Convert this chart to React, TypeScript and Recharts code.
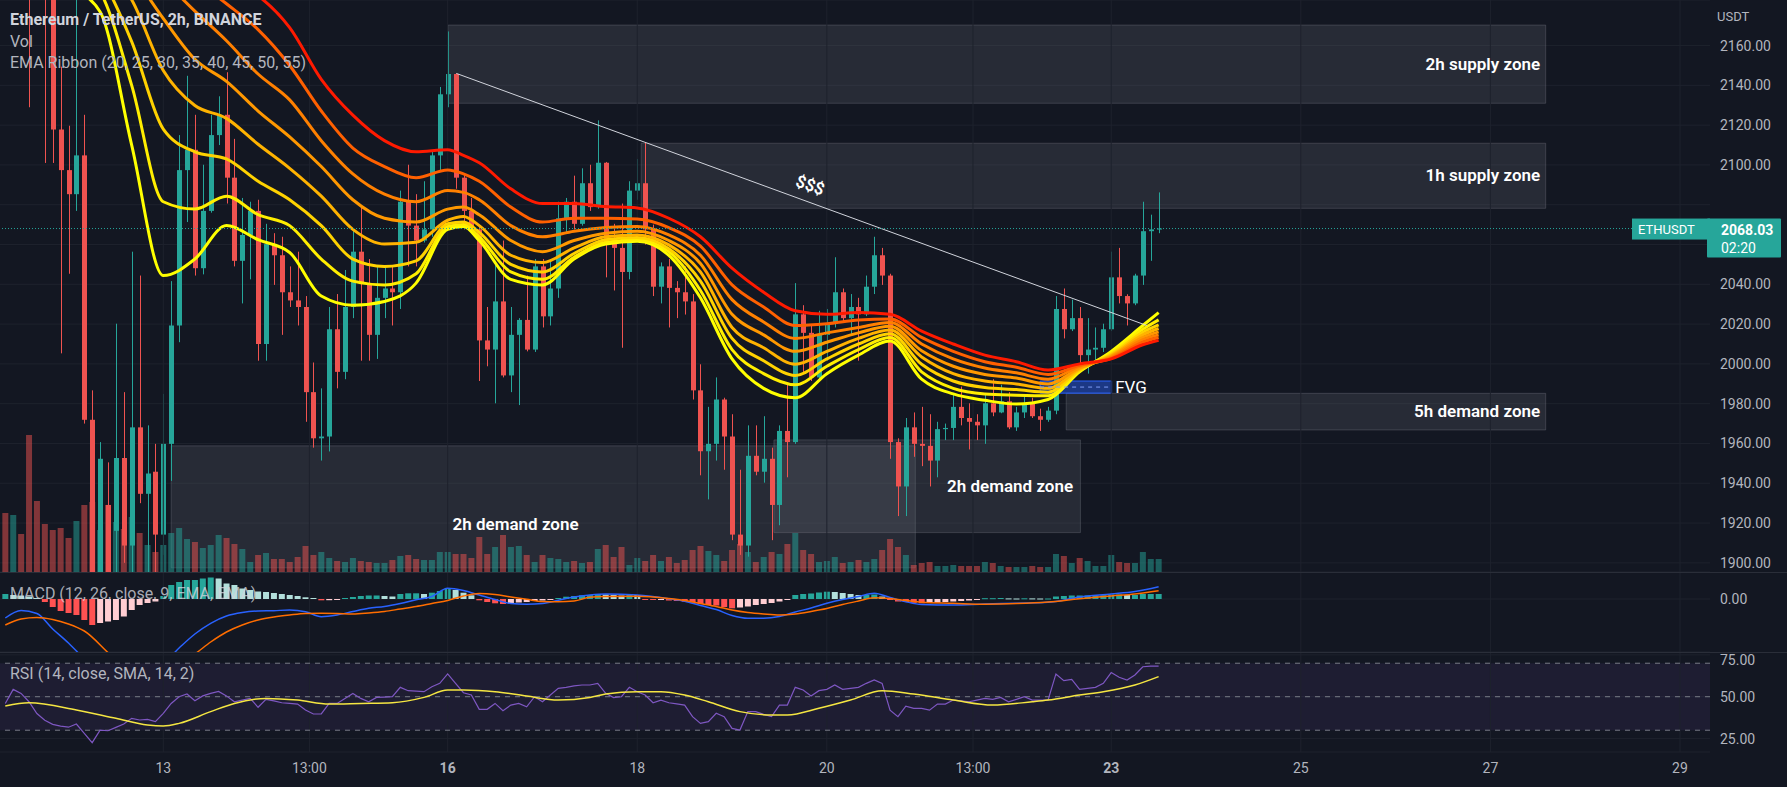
import React from 'react'
import {
  ComposedChart,
  Bar,
  Line,
  Scatter,
  XAxis,
  YAxis,
  CartesianGrid,
  ReferenceArea,
  ReferenceLine,
} from 'recharts'

// ETHUSDT 2h (Binance). Bar index 0 is the first bar on screen, day 13 opens at bar 20.
const opens = [
  2236, 2228, 2232, 2208, 2196, 2190, 2186, 2117.8, 2097.4, 2085.3,
  2104.8, 1971.9, 1872, 1929.1, 1916.1, 1952.7, 1908.7, 1968.1, 1934.7, 1945.8,
  1914.2, 1959.8, 2019.3, 2097.4, 2107.6, 2048.1, 2076.9, 2115, 2125.2, 2093.6,
  2051.8, 2064.8, 2076.9, 2010, 2060.2, 2054.6, 2036, 2031.9, 2028.6, 1985.8,
  1962.6, 1963.5, 2017.4, 1996, 2028.6, 2056.4, 2040.7, 2014.6, 2033.2, 2037.9,
  2036, 2081.5, 2069.5, 2062, 2067.6, 2104.8, 2135.5, 2145.7, 2093.6, 2076.9,
  2067.6, 2011.8, 2007.2, 2031.4, 1994.2, 2014.6, 2022.1, 2007.2, 2049, 2023.9,
  2037.9, 2073.2, 2081.5, 2070.4, 2090.8, 2078.8, 2101.1, 2061.1, 2058.3, 2046.2,
  2087.1, 2090.8, 2067.6, 2038.8, 2049, 2038.2, 2036, 2031.4, 1986.7, 1956.1,
  1959.8, 1982.1, 1963.5, 1914.2, 1908.7, 1953.8, 1945.8, 1952.3, 1929.1, 1966.3,
  1960.7, 2024.9, 2015.6, 1993.2, 2014.6, 2020.2, 2036, 2023, 2028.6, 2024.9,
  2038.8, 2054.6, 2044.4, 1960.7, 1938.4, 1968.1, 1959.8, 1958.8, 1951.4, 1967.2,
  1967.8, 1978.4, 1972.8, 1970.9, 1969.1, 1980.2, 1975.6, 1981.2, 1968.1, 1975.6,
  1980.2, 1973.7, 1971.9, 1976.5, 2027.6, 2017.4, 2023, 2004.4, 2007.2, 2008.1,
  2017.4, 2043.5, 2034.1, 2030.4, 2044.4, 2066.7, 2067.6,
]
const highs = [
  2248, 2240, 2236, 2215, 2202, 2195, 2192, 2149.4, 2119.7, 2186,
  2125.2, 1986.7, 1960.7, 1950.5, 2020.2, 1985.8, 2056.4, 2044.4, 1969.1, 1959.8,
  1984.9, 2041.6, 2115, 2144.8, 2125.2, 2100.1, 2125.2, 2134.5, 2146.6, 2113.1,
  2083.4, 2081.5, 2082.5, 2070.4, 2065.7, 2063.9, 2049, 2056.4, 2034.1, 2000.7,
  1987.7, 2028.6, 2035.1, 2047.2, 2067.6, 2079.7, 2052.7, 2049, 2049, 2049,
  2087.1, 2100.1, 2085.3, 2091.8, 2106.6, 2139.2, 2167.1, 2146, 2095.5, 2083.4,
  2069.5, 2028.6, 2051.8, 2062, 2028.6, 2023, 2044.4, 2052.7, 2052.7, 2052.7,
  2081.5, 2083.4, 2094.6, 2098.3, 2100.1, 2122.4, 2101.5, 2070.4, 2080.6, 2091.8,
  2103, 2111.3, 2070, 2051, 2052.7, 2041.6, 2049, 2035.1, 1999.8, 1978.4,
  1993.2, 1983, 1974.7, 1946.8, 1969.1, 1969.1, 1973.7, 1957.9, 1969.1, 1990.5,
  2040.6, 2029.5, 2019.3, 2026.7, 2027.6, 2053.6, 2037.9, 2035.1, 2033.2, 2044.4,
  2063.9, 2058.3, 2045.3, 1962.6, 1972.8, 1975.6, 1978.4, 1974.7, 1970.9, 1970,
  1984.9, 1988.6, 1980.2, 1974.7, 1984.9, 1992.3, 1989.5, 1985.8, 1978.4, 1984,
  1983, 1977.5, 1978.4, 2034.1, 2037.9, 2032.3, 2028.6, 2023, 2018.3, 2020.2,
  2056.4, 2058.3, 2035, 2045.3, 2081.5, 2075, 2086.2,
]
const lows = [
  2222, 2215, 2200, 2129, 2186, 2101, 2101, 2005.3, 2045.3, 2076.9,
  1970, 1850, 1860, 1878, 1890, 1900, 1890, 1930, 1893, 1894,
  1904, 1941.2, 2010.9, 2071.3, 2044.4, 2045, 2076, 2110, 2080.6, 2049,
  2030.4, 2042.5, 2001.6, 2001.6, 2039.7, 2014.6, 2028.6, 2019.3, 1970.9, 1957.9,
  1951.4, 1956, 1987.7, 1992.3, 2023, 2001.6, 2001.6, 2002.5, 2023, 2019.3,
  2027.6, 2049, 2049, 2061, 2063.9, 2097.4, 2129, 2088, 2067.6, 2066.7,
  1991.4, 1998.8, 1980.2, 1993.2, 1985.8, 1979.3, 2006.3, 2006, 2018.3, 2019.3,
  2033.2, 2065.7, 2067.6, 2069.5, 2076.9, 2078, 2043.5, 2036.9, 2008.1, 2042.5,
  2082.5, 2060, 2034.1, 2030.4, 2018.3, 2023, 2024.8, 1982.1, 1944, 1931.9,
  1951.4, 1946.8, 1911.4, 1904, 1903.1, 1944, 1940.3, 1911.4, 1918.9, 1943,
  1959.8, 1995.1, 1991.4, 1992.3, 2001.6, 2018.3, 2021.1, 2014.6, 2001.6, 2024,
  2035.1, 2039.7, 1952.3, 1923.5, 1923.5, 1953.3, 1948.6, 1938.4, 1943, 1961.7,
  1961.7, 1969.1, 1957, 1961.7, 1959.8, 1973.7, 1975.2, 1967.2, 1966.3, 1972.8,
  1972.8, 1966.3, 1970.9, 1974.7, 2012.8, 2016.5, 1997, 1995.1, 2001.6, 2006,
  2016.5, 2030.4, 2019.3, 2029.5, 2039.7, 2051.8, 2065.7,
]
const closes = [
  2228, 2232, 2208, 2196, 2190, 2186, 2117.8, 2097.4, 2085.3, 2104.8,
  1971.9, 1872, 1952.3, 1890, 1952.7, 1908.7, 1968.1, 1934.7, 1944.9, 1914.2,
  1959.8, 2019.3, 2097.4, 2107.6, 2048.1, 2076.9, 2115, 2125.2, 2093.6, 2051.8,
  2064.8, 2076.9, 2010, 2060.2, 2054.6, 2036, 2031.9, 2028.6, 1985.8, 1962.6,
  1963.5, 2017.4, 1996, 2028.6, 2056.4, 2040.7, 2014.6, 2033.2, 2037.9, 2036,
  2081.5, 2069.5, 2062, 2067.6, 2104.8, 2135.5, 2145.7, 2093.6, 2076.9, 2067.6,
  2011.8, 2007.2, 2031.4, 1994.2, 2014.6, 2022.1, 2007.2, 2049, 2023.9, 2037.9,
  2073.2, 2081.5, 2070.4, 2090.8, 2078.8, 2101.1, 2061.1, 2058.3, 2046.2, 2087.1,
  2090.8, 2067.6, 2038.8, 2049, 2038.2, 2036, 2031.4, 1986.7, 1956.1, 1959.8,
  1982.1, 1963.5, 1914.2, 1908.7, 1953.8, 1945.8, 1952.3, 1929.1, 1966.3, 1960.7,
  2024.9, 2015.6, 1993.2, 2014.6, 2020.2, 2036, 2023, 2028.6, 2024.9, 2038.8,
  2054.6, 2044.4, 1960.7, 1938.4, 1968.1, 1959.8, 1958.8, 1951.4, 1967.2, 1967.8,
  1978.4, 1972.8, 1970.9, 1969.1, 1980.2, 1975.6, 1981.2, 1968.1, 1975.6, 1980.2,
  1973.7, 1971.9, 1976.5, 2027.6, 2017.4, 2023, 2004.4, 2007.2, 2008.1, 2017.4,
  2043.5, 2034.1, 2030.4, 2044.4, 2066.7, 2067.6, 2068.03,
]
// volume, thousand ETH
const volumes = [
  59, 57, 38, 137, 71, 48, 42, 44, 34, 51,
  67, 70, 42, 67, 50, 43, 55, 39, 27, 20,
  27, 39, 44, 33, 30, 24, 27, 37, 34, 28,
  23, 10, 17, 19, 13, 13, 10, 15, 26, 17,
  20, 14, 11, 10, 14, 11, 10, 9, 9, 12,
  16, 17, 13, 12, 12, 20, 20, 18, 18, 14,
  35, 18, 25, 37, 25, 26, 17, 10, 17, 14,
  13, 10, 11, 9, 10, 23, 27, 15, 25, 7,
  14, 11, 17, 11, 15, 9, 12, 22, 26, 21,
  17, 11, 22, 28, 20, 10, 15, 20, 18, 28,
  39, 22, 18, 10, 11, 15, 9, 10, 12, 10,
  13, 22, 33, 25, 17, 7, 9, 10, 6, 6,
  7, 6, 6, 6, 10, 9, 6, 5, 5, 5,
  6, 5, 5, 18, 16, 9, 14, 11, 6, 6,
  17, 10, 9, 9, 20, 13, 13,
]

// EMA ribbon at these bars
const ribbonIdx = [0, 4, 8, 12, 16, 20, 24, 28, 32, 36, 40, 44, 48, 52, 56, 58, 60, 64, 68, 72, 76, 80, 84, 88, 92, 96, 100, 104, 108, 112, 116, 120, 124, 128, 132, 136, 140, 144, 146]
const ema20 = [2215, 2200, 2190, 2177, 2110, 2044.4, 2052.7, 2069.5, 2062.4, 2056, 2034.1, 2029.5, 2031.4, 2040.6, 2067.6, 2069.1, 2062, 2042.5, 2039.7, 2052.7, 2060.2, 2061.6, 2054.6, 2033.2, 2002.5, 1987.7, 1983, 1995.1, 2004.4, 2011.5, 1992.3, 1984.9, 1981.7, 1979.8, 1982.1, 1996, 2006.3, 2019.3, 2025.8]
const ema25 = [2225, 2212, 2200, 2187, 2140, 2081.5, 2077.8, 2084.3, 2075, 2069.5, 2052.7, 2041.6, 2039.7, 2045.3, 2069.1, 2070, 2063.9, 2046.2, 2042.5, 2053.6, 2061.1, 2062.4, 2056.4, 2036.9, 2007.2, 1995.1, 1989.5, 1998.8, 2007.2, 2013.3, 1996, 1987.7, 1984.9, 1984.3, 1984, 1996.5, 2005.5, 2017.4, 2022.1]
const ema30 = [2235, 2222, 2210, 2195, 2162, 2118, 2106.6, 2103, 2091.8, 2082.5, 2069.5, 2052.7, 2049, 2051.8, 2070.4, 2071.3, 2066.1, 2050, 2046.2, 2055.5, 2062.4, 2063.5, 2057.9, 2041.6, 2012.8, 2001.6, 1994.2, 2002.5, 2010, 2015.2, 1999.8, 1991.4, 1988.1, 1987.1, 1985.8, 1997, 2004.8, 2015.9, 2019.6]
const ema35 = [2242, 2230, 2218, 2203, 2183, 2147.5, 2129.9, 2123.4, 2110.4, 2098.3, 2084.3, 2067.6, 2060.2, 2061.1, 2072.2, 2074.1, 2069.5, 2054.6, 2050.9, 2058.3, 2063.9, 2064.8, 2059.8, 2046.2, 2018.3, 2008.1, 1999.8, 2006.3, 2012.8, 2017, 2003.5, 1995.1, 1991.4, 1989.9, 1987.7, 1997.5, 2004.2, 2014.6, 2017.8]
const ema40 = [2248, 2237, 2226, 2212, 2196, 2173.6, 2153.1, 2142, 2127.1, 2114.1, 2099.2, 2082.5, 2073.2, 2071.3, 2077.8, 2078.8, 2075, 2062, 2056.4, 2062, 2065.7, 2066.7, 2062, 2050.5, 2024.9, 2014.6, 2006.3, 2010.9, 2015.6, 2018.9, 2006.6, 1998.8, 1994.7, 1992.9, 1989.9, 1998, 2003.7, 2013.3, 2016.1]
const ema45 = [2254, 2244, 2234, 2222, 2208, 2193, 2177.3, 2162.4, 2145.7, 2132.7, 2112.2, 2095.5, 2085.3, 2081.5, 2087.1, 2086.2, 2082.5, 2069.5, 2063.9, 2066.7, 2068.5, 2069.1, 2064.8, 2054.6, 2032.3, 2021.1, 2012.8, 2015.6, 2018.3, 2020.8, 2010, 2002.5, 1997.9, 1995.5, 1992.3, 1998.8, 2003.2, 2012.2, 2014.6]
const ema50 = [2259, 2250, 2241, 2230, 2218, 2205, 2193, 2181, 2168, 2150, 2127.1, 2108.5, 2099.2, 2093.6, 2097.4, 2095.5, 2091.8, 2078.8, 2071.3, 2073.2, 2073.2, 2072.8, 2068.5, 2059.2, 2039.7, 2028.6, 2019.3, 2020.2, 2022.1, 2022.6, 2013.3, 2006.3, 2001.1, 1998.3, 1994.7, 1999.3, 2002.8, 2010.9, 2013.3]
const ema55 = [2264, 2256, 2247, 2237, 2226, 2214, 2203, 2193, 2185, 2169, 2143, 2125, 2112.2, 2106.6, 2107.6, 2104.8, 2101.1, 2088, 2080.6, 2080.6, 2079.1, 2078.4, 2073.2, 2063.9, 2048.1, 2036, 2026.7, 2024.9, 2025.8, 2024.9, 2016.5, 2010, 2004.4, 2001.1, 1996.9, 2000, 2002.5, 2009.6, 2011.8]

// MACD (12, 26, 9)
const macdHist = [
  5, 4, 3.5, 2.5, 1, -3, -8, -12, -14, -16,
  -21, -26, -24, -22.5, -21, -17.5, -11, -6, -4, -2.5,
  3, 14, 17, 19, 19, 20.5, 21.5, 20.5, 15.5, 14,
  10.5, 9, 7.5, 7, 6, 5, 4, 3, 1.7, 1,
  -1.3, -1.2, -0.3, 1, 2, 3, 3.5, 3.5, 3, 2.5,
  5, 5.7, 5.7, 5, 6.3, 8, 10.7, 9, 6.3, 3.7,
  -1.3, -3, -4.3, -5, -4.5, -3.5, -3, -2, -1.5, -1,
  1, 2.3, 3, 3.7, 4, 5, 4.5, 4, 3.5, 4.5,
  4, -0.5, -1, -1, -1.5, -2, -2.7, -3.5, -5, -6,
  -6.5, -8, -9.3, -8.5, -7.5, -6, -5, -4, -2.5, -1,
  4, 5, 5.5, 6.5, 7.3, 7, 6, 5, 4, 4,
  4.5, 2.5, -1, -2.5, -3, -3.8, -4.3, -4, -3.7, -3,
  -2.5, -2, -1.5, -1, 0.8, 0.8, 1, 0.6, 0.5, 0.7,
  0.6, 0.5, 0.5, 2.5, 3, 3.5, 3.5, 3.5, 3.5, 3.8,
  4.5, 4.5, 4, 4, 5, 5, 5,
]
const macdIdx = [0, 2, 4, 6, 8, 10, 14, 18, 22, 24, 26, 28, 30, 32, 34, 36, 38, 40, 42, 44, 46, 48, 50, 52, 54, 56, 58, 60, 62, 64, 66, 68, 70, 72, 74, 76, 80, 84, 86, 88, 90, 92, 94, 96, 98, 100, 102, 104, 106, 108, 110, 112, 114, 116, 120, 124, 128, 132, 136, 140, 143, 146]
const macdLine = [-19, -11.5, -14.5, -30, -44, -60, -85, -80, -49, -35, -24.3, -17, -13.5, -12, -11.7, -11, -12.7, -17.7, -16, -12.5, -9.3, -7.5, -4.5, -0.8, 2.5, 10.7, 8.5, 4, -0.5, -4.5, -5.3, -4.5, -1.3, 2, 4, 5, 4, 0.3, -2.2, -6.5, -10.5, -16.5, -19.3, -19.3, -17.5, -13, -9, -4.3, -0.5, 2.5, 5.7, 1.5, -2.7, -5.5, -6, -5, -4.2, -3.3, 2, 5, 7.5, 12.3]
const signalLine = [-26, -20, -18.5, -20.5, -25, -32, -60, -72, -65, -55, -43, -33, -26, -21, -18, -16, -14.5, -14.3, -14.5, -15, -14, -12.5, -10, -7.5, -4.5, -1.5, 3, 5.5, 4.5, 2, -0.3, -2.5, -2.7, -2, 1.7, 2.5, 2.8, 0.5, -1.5, -4.5, -7.5, -11, -13.5, -15, -16, -15, -12.5, -9.5, -5.5, -2, 1.3, 0.5, -1.5, -3.3, -4.3, -5.2, -4.6, -3, 0.3, 3, 5, 8.3]

// RSI (14) and its SMA (14)
const rsiValues = [
  46, 54.4, 52, 47, 40, 36, 33.5, 32.5, 31.8, 33.7,
  28.1, 22.6, 30.1, 29.7, 31.7, 33.7, 37.1, 36.1, 36.5, 35.1,
  40.1, 46, 50, 51.6, 47.6, 50.5, 52, 53.2, 50.5, 47,
  48, 49, 43.7, 48.4, 47.5, 46.4, 46, 45.6, 42.1, 39.7,
  39.7, 46, 46, 49, 52, 49, 47, 49.6, 49.8, 50,
  55.6, 53.6, 53.4, 53, 56, 58, 63.6, 58, 52.4, 51,
  42.5, 42.5, 46, 41.7, 45, 46, 44, 50, 47, 51,
  55, 55.6, 56.5, 57, 57, 58, 52, 49.5, 50, 55.6,
  53, 51, 46.4, 48, 46.4, 45.7, 45, 38.1, 34.1, 35.1,
  40.1, 38.1, 31.1, 30.1, 41.1, 41.1, 39.5, 38.1, 45, 45,
  55.6, 54, 50.4, 53.6, 54.4, 57, 54.4, 55, 55.6, 58,
  60, 58, 42, 38.1, 44.4, 43, 43, 42, 45.6, 45.6,
  48, 47.6, 47, 48, 49, 48.4, 49.6, 47, 48.4, 50,
  48, 48, 48, 63.6, 59.6, 60.4, 54.4, 55, 55.6, 58,
  64.4, 61.6, 60, 63, 67.9, 68.3, 68.3,
]
const rsiSmaIdx = [0, 3, 9, 14, 18, 20, 22, 26, 29, 33, 37, 41, 45, 49, 53, 56, 58, 62, 66, 70, 74, 76, 80, 83, 86, 89, 93, 97, 99, 103, 107, 111, 115, 120, 125, 130, 132, 136, 139, 143, 146]
const rsiSma = [44.5, 46.4, 42.1, 37.1, 33.1, 32.5, 34.1, 41.1, 46, 49, 48, 45.6, 46, 46.4, 49.6, 54, 54, 53, 50.4, 48, 49.5, 51.6, 53, 53, 51, 47, 41.1, 39.1, 39.1, 43.1, 48, 53.6, 51.6, 48, 45, 47, 48, 51, 53, 57, 62]

// time axis
const dayTicks = [20, 38.5, 56, 80, 104, 122.5, 140, 164, 188, 212]
const dayLabels = ['13', '13:00', '16', '18', '20', '13:00', '23', '25', '27', '29']
const priceTicks = [1900, 1920, 1940, 1960, 1980, 2000, 2020, 2040, 2060, 2080, 2100, 2120, 2140, 2160]
const lastPrice = 2068.03

// drawings on the chart (bar index / price)
const zones = [
  { x1: 56.05, x2: 195, y1: 2131, y2: 2170.3 },
  { x1: 80.5, x2: 195, y1: 2078.2, y2: 2110.9 },
  { x1: 134.3, x2: 195, y1: 1966.8, y2: 1985.2 },
  { x1: 21, x2: 115.2, y1: 1897.5, y2: 1958.8 },
  { x1: 97.3, x2: 136.1, y1: 1915.2, y2: 1961.8 },
]
const notes = [
  { i: 194.3, p: 2150.7, text: '2h supply zone', anchor: 'end', angle: 0 },
  { i: 194.3, p: 2094.9, text: '1h supply zone', anchor: 'end', angle: 0 },
  { i: 194.3, p: 1976.5, text: '5h demand zone', anchor: 'end', angle: 0 },
  { i: 64.6, p: 1919.6, text: '2h demand zone', anchor: 'middle', angle: 0 },
  { i: 127.2, p: 1938.4, text: '2h demand zone', anchor: 'middle', angle: 0 },
  { i: 101.9, p: 2089.9, text: '$$$', anchor: 'middle', angle: 20 },
  { i: 140.5, p: 1988.4, text: 'FVG', anchor: 'start', angle: 0 },
]
const trend = [{ x: 57.1, y: 2146 }, { x: 144.5, y: 2019.3 }]
const fvg = { x1: 131, x2: 140.05, y1: 1985.3, y2: 1991.4 }

const BG = '#131722'
const GRID = '#1e222d'
const TEXT = '#b2b5be'
const UP = '#26a69a'
const DOWN = '#ef5350'
const FONT = 'Roboto, "Noto Sans", Arial, sans-serif'
const W = 1787
const AXIS_W = 77
const X_DOMAIN: [number, number] = [-0.67, 215.8]
const ribbonColors = ['#ffff00', '#ffee00', '#ffd200', '#ffb300', '#ff9800', '#ff8000', '#ff6000', '#ff1a00']

const rows = opens.map((o, i) => ({
  i,
  open: o,
  high: highs[i],
  low: lows[i],
  close: closes[i],
  vol: volumes[i],
  hist: macdHist[i],
  rsi: rsiValues[i],
}))

const ribbon = [ema20, ema25, ema30, ema35, ema40, ema45, ema50, ema55].map((arr) =>
  ribbonIdx.map((i, k) => ({ i, v: arr[k] }))
)
const macdData = macdIdx.map((i, k) => ({ i, v: macdLine[k] }))
const signalData = macdIdx.map((i, k) => ({ i, v: signalLine[k] }))
const rsiSmaData = rsiSmaIdx.map((i, k) => ({ i, v: rsiSma[k] }))

function Candle(props: any) {
  const { x, y, width, height, payload } = props
  if (x == null || height == null) return null
  const top = Math.min(y, y + height)
  const h = Math.abs(height)
  const range = payload.high - payload.low
  const k = range > 0 ? h / range : 0
  const color = payload.close >= payload.open ? UP : DOWN
  const yO = top + (payload.high - payload.open) * k
  const yC = top + (payload.high - payload.close) * k
  const cx = Math.round(x + width / 2) + 0.5
  return (
    <g>
      <line x1={cx} x2={cx} y1={top} y2={top + h} stroke={color} strokeWidth={1} />
      <rect x={cx - 2.5} y={Math.min(yO, yC)} width={5} height={Math.max(1, Math.abs(yC - yO))} fill={color} />
    </g>
  )
}

function VolBar(props: any) {
  const { x, y, width, height, payload } = props
  if (x == null || height == null) return null
  const up = payload.close >= payload.open
  return (
    <rect
      x={x}
      y={Math.min(y, y + height)}
      width={width}
      height={Math.abs(height)}
      fill={up ? 'rgba(38,166,154,0.5)' : 'rgba(239,83,80,0.5)'}
    />
  )
}

function histColor(i: number) {
  const v = macdHist[i]
  const prev = i > 0 ? macdHist[i - 1] : v
  if (v >= 0) return v >= prev ? '#26a69a' : '#b2dfdb'
  return v < prev ? '#ff5252' : '#ffcdd2'
}

function HistBar(props: any) {
  const { x, y, width, height, payload } = props
  if (x == null || height == null) return null
  return (
    <rect
      x={x}
      y={Math.min(y, y + height)}
      width={width}
      height={Math.max(1, Math.abs(height))}
      fill={histColor(payload.i)}
    />
  )
}

function Note(props: any) {
  const { cx, cy, payload } = props
  if (cx == null) return null
  return (
    <text
      x={cx}
      y={cy}
      textAnchor={payload.anchor}
      dominantBaseline="central"
      fill="#ffffff"
      fontSize={17}
      fontWeight={payload.text === 'FVG' ? 400 : 600}
      fontFamily={FONT}
      transform={payload.angle ? `rotate(${payload.angle} ${cx} ${cy})` : undefined}
    >
      {payload.text}
    </text>
  )
}

function PriceTag(props: any) {
  const vb = props.viewBox || {}
  const y = vb.y ?? 0
  const right = (vb.x ?? 0) + (vb.width ?? 0)
  return (
    <g fontFamily={FONT}>
      <rect x={right - 78} y={y - 10} width={78} height={21} fill={UP} />
      <text x={right - 72} y={y + 1} dominantBaseline="central" fill="#fff" fontSize={13}>
        ETHUSDT
      </text>
      <rect x={right - 3} y={y - 10} width={74} height={39} fill={UP} rx={1} />
      <text x={right + 11} y={y + 1} dominantBaseline="central" fill="#fff" fontSize={14} fontWeight={700}>
        {lastPrice.toFixed(2)}
      </text>
      <text x={right + 11} y={y + 19} dominantBaseline="central" fill="#fff" fontSize={14}>
        02:20
      </text>
    </g>
  )
}

function DayTick(props: any) {
  const { x, y, payload } = props
  const label = dayLabels[dayTicks.indexOf(payload.value)] ?? ''
  const bold = label === '16' || label === '23'
  return (
    <text x={x} y={y + 13} textAnchor="middle" fill={TEXT} fontSize={14} fontWeight={bold ? 700 : 400} fontFamily={FONT}>
      {label}
    </text>
  )
}

const axisTick = { fill: TEXT, fontSize: 14, fontFamily: FONT }

// the last-price tag sits on top of the 2060 label, so that label is left blank
const priceLabel = (v: number) => (Math.abs(v - lastPrice) < 12 ? '' : v.toFixed(2))

function vGrid(yAxisId: string) {
  return dayTicks.map((t) => (
    <ReferenceLine key={'g' + t} x={t} xAxisId="x" yAxisId={yAxisId} stroke={GRID} strokeWidth={1} />
  ))
}

function MainPane() {
  return (
    <ComposedChart width={W} height={572} data={rows} margin={{ top: 0, right: 0, bottom: 0, left: 0 }}>
      <XAxis xAxisId="x" dataKey="i" type="number" domain={X_DOMAIN} allowDataOverflow hide />
      <XAxis xAxisId="xc" dataKey="i" type="number" domain={X_DOMAIN} allowDataOverflow hide />
      <XAxis xAxisId="xv" dataKey="i" type="number" domain={X_DOMAIN} allowDataOverflow hide />
      <YAxis
        yAxisId="price"
        orientation="right"
        width={AXIS_W}
        domain={[1895.4, 2182.9]}
        allowDataOverflow
        ticks={priceTicks}
        tickFormatter={priceLabel}
        tick={axisTick}
        tickLine={false}
        axisLine={false}
        tickMargin={4}
      />
      <YAxis yAxisId="vol" domain={[0, 572]} allowDataOverflow hide />
      <CartesianGrid xAxisId="x" yAxisId="price" vertical={false} stroke={GRID} />
      {vGrid('price')}
      <Bar xAxisId="xv" yAxisId="vol" dataKey="vol" barSize={6} shape={VolBar} isAnimationActive={false} />
      <Bar
        xAxisId="xc"
        yAxisId="price"
        dataKey={(d: any) => [d.low, d.high]}
        barSize={6}
        shape={Candle}
        isAnimationActive={false}
      />
      {ribbon.map((data, k) => (
        <Line
          key={'ema' + k}
          data={data}
          xAxisId="x"
          yAxisId="price"
          dataKey="v"
          type="monotone"
          stroke={ribbonColors[k]}
          strokeWidth={3}
          dot={false}
          activeDot={false}
          isAnimationActive={false}
        />
      ))}
      {zones.map((z, k) => (
        <ReferenceArea
          key={'z' + k}
          xAxisId="x"
          yAxisId="price"
          x1={z.x1}
          x2={z.x2}
          y1={z.y1}
          y2={z.y2}
          fill="rgba(120,123,134,0.2)"
          fillOpacity={1}
          stroke="rgba(120,123,134,0.35)"
        />
      ))}
      <ReferenceArea
        xAxisId="x"
        yAxisId="price"
        x1={fvg.x1}
        x2={fvg.x2}
        y1={fvg.y1}
        y2={fvg.y2}
        fill="rgba(41,98,255,0.45)"
        fillOpacity={1}
        stroke="#2962ff"
      />
      <ReferenceLine
        xAxisId="x"
        yAxisId="price"
        segment={[{ x: fvg.x1, y: (fvg.y1 + fvg.y2) / 2 }, { x: fvg.x2, y: (fvg.y1 + fvg.y2) / 2 }]}
        stroke="#7f9cf5"
        strokeDasharray="4 4"
      />
      <ReferenceLine xAxisId="x" yAxisId="price" segment={trend} stroke="#d1d4dc" strokeWidth={1} />
      <ReferenceLine
        xAxisId="x"
        yAxisId="price"
        y={lastPrice}
        stroke={UP}
        strokeDasharray="1 2"
        label={PriceTag}
      />
      <Scatter xAxisId="x" yAxisId="price" data={notes} dataKey="p" shape={Note} isAnimationActive={false} />
    </ComposedChart>
  )
}

function MacdPane() {
  return (
    <ComposedChart width={W} height={80} data={rows} margin={{ top: 0, right: 0, bottom: 0, left: 0 }}>
      <XAxis xAxisId="x" dataKey="i" type="number" domain={X_DOMAIN} allowDataOverflow hide />
      <XAxis xAxisId="xh" dataKey="i" type="number" domain={X_DOMAIN} allowDataOverflow hide />
      <YAxis
        yAxisId="m"
        orientation="right"
        width={AXIS_W}
        domain={[-53, 27]}
        allowDataOverflow
        ticks={[0]}
        tickFormatter={(v: number) => v.toFixed(2)}
        tick={axisTick}
        tickLine={false}
        axisLine={false}
        tickMargin={4}
      />
      <CartesianGrid xAxisId="x" yAxisId="m" vertical={false} stroke={GRID} />
      {vGrid('m')}
      <Bar xAxisId="xh" yAxisId="m" dataKey="hist" barSize={6} shape={HistBar} isAnimationActive={false} />
      <Line data={macdData} xAxisId="x" yAxisId="m" dataKey="v" type="monotone" stroke="#2962ff" strokeWidth={1.5} dot={false} activeDot={false} isAnimationActive={false} />
      <Line data={signalData} xAxisId="x" yAxisId="m" dataKey="v" type="monotone" stroke="#ff6d00" strokeWidth={1.5} dot={false} activeDot={false} isAnimationActive={false} />
    </ComposedChart>
  )
}

function RsiPane() {
  return (
    <ComposedChart width={W} height={135} data={rows} margin={{ top: 0, right: 0, bottom: 0, left: 0 }}>
      <XAxis
        xAxisId="x"
        dataKey="i"
        type="number"
        domain={X_DOMAIN}
        allowDataOverflow
        ticks={dayTicks}
        interval={0}
        height={35}
        tick={DayTick}
        tickLine={false}
        axisLine={false}
      />
      <YAxis
        yAxisId="r"
        orientation="right"
        width={AXIS_W}
        domain={[17, 76.7]}
        allowDataOverflow
        ticks={[25, 50, 75]}
        tickFormatter={(v: number) => v.toFixed(2)}
        tick={axisTick}
        tickLine={false}
        axisLine={false}
        tickMargin={4}
      />
      <CartesianGrid xAxisId="x" yAxisId="r" vertical={false} stroke={GRID} />
      {vGrid('r')}
      <ReferenceArea xAxisId="x" yAxisId="r" y1={30} y2={70} fill="rgba(126,87,194,0.1)" fillOpacity={1} stroke="none" />
      {[70, 50, 30].map((v) => (
        <ReferenceLine key={'b' + v} xAxisId="x" yAxisId="r" y={v} stroke="#787b86" strokeDasharray="5 5" strokeWidth={1} />
      ))}
      <Line xAxisId="x" yAxisId="r" dataKey="rsi" type="linear" stroke="#7e57c2" strokeWidth={1.2} dot={false} activeDot={false} isAnimationActive={false} />
      <Line data={rsiSmaData} xAxisId="x" yAxisId="r" dataKey="v" type="monotone" stroke="#f5e642" strokeWidth={1.5} dot={false} activeDot={false} isAnimationActive={false} />
    </ComposedChart>
  )
}

const overlayText: React.CSSProperties = {
  position: 'absolute',
  left: 10,
  fontSize: 16,
  lineHeight: '18px',
  color: TEXT,
  whiteSpace: 'nowrap',
  pointerEvents: 'none',
}

export default function App() {
  return (
    <div style={{ position: 'relative', width: W, height: 787, background: BG, overflow: 'hidden', fontFamily: FONT }}>
      <style>{`body{margin:0;background:${BG}}`}</style>
      <MainPane />
      <MacdPane />
      <RsiPane />
      <div style={{ ...overlayText, top: 11, fontWeight: 700, color: '#d1d4dc' }}>Ethereum / TetherUS, 2h, BINANCE</div>
      <div style={{ ...overlayText, top: 33 }}>Vol</div>
      <div style={{ ...overlayText, top: 54 }}>EMA Ribbon (20, 25, 30, 35, 40, 45, 50, 55)</div>
      <div style={{ ...overlayText, top: 585, color: 'rgba(209,212,220,0.8)' }}>MACD (12, 26, close, 9, EMA, EMA)</div>
      <div style={{ ...overlayText, top: 665 }}>RSI (14, close, SMA, 14, 2)</div>
      <div style={{ ...overlayText, left: 1717, top: 9, fontSize: 13, lineHeight: '15px' }}>USDT</div>
      <div style={{ position: 'absolute', left: 0, top: 572, width: W, height: 1, background: '#2a2e39' }} />
      <div style={{ position: 'absolute', left: 0, top: 652, width: W, height: 1, background: '#2a2e39' }} />
    </div>
  )
}
